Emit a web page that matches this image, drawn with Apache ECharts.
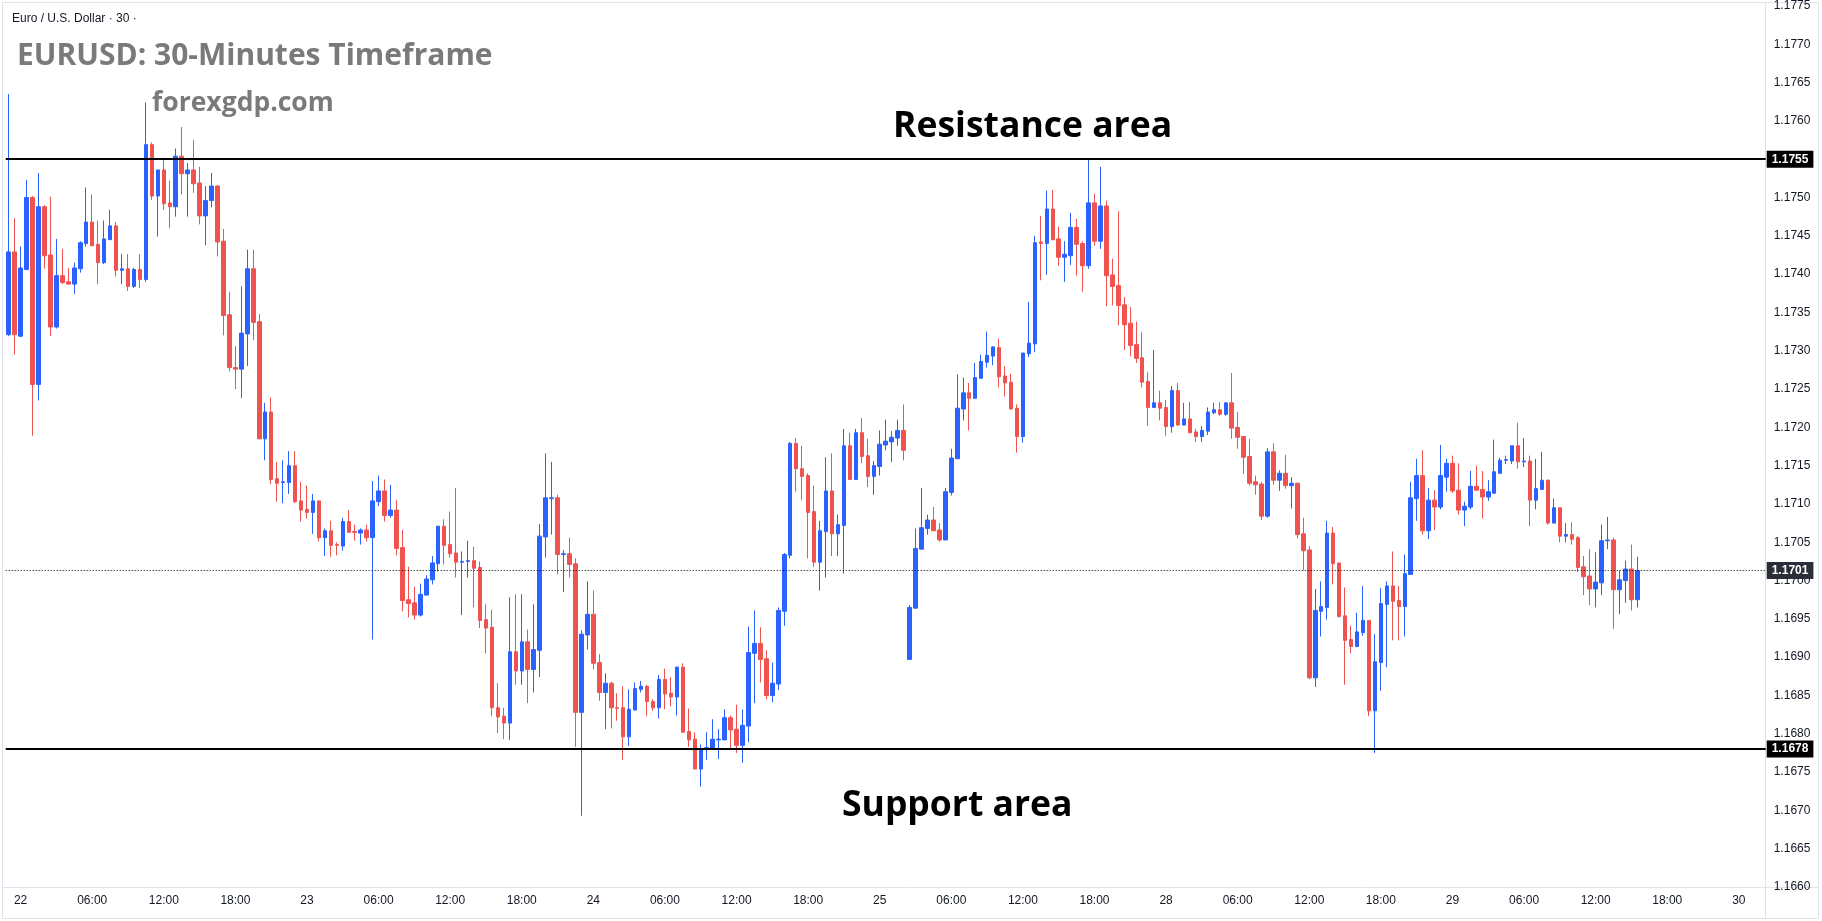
<!DOCTYPE html>
<html>
<head>
<meta charset="utf-8">
<title>EURUSD 30-Minutes Timeframe</title>
<script src="https://cdn.jsdelivr.net/npm/echarts@6/dist/echarts.min.js"></script>
<style>
  html, body { margin: 0; padding: 0; background: #fff; }
  #chart { width: 1822px; height: 921px; }
</style>
</head>
<body>
<div id="chart"></div>
<script>
// day labels of the time scale (weekend 26/27 is skipped)
var days = ['21', '22', '23', '24', '25', '28', '29', '30'];
var firstSlot = 46;      // first candle = 21 23:00, 30-minute slots
var slotCount = 295;     // visible slots incl. empty space on the right

var resistanceLevel = 1.1755;
var supportLevel = 1.1678;

// [open, close, low, high] per 30-minute candle
var candles = [
    [1.17321, 1.17429, 1.17319, 1.17635], [1.17429, 1.17321, 1.17295, 1.17473], [1.17319, 1.17408, 1.17318, 1.17436],
    [1.17406, 1.17500, 1.17405, 1.17523], [1.17500, 1.17256, 1.17189, 1.17502], [1.17256, 1.17488, 1.17235, 1.17532],
    [1.17488, 1.17424, 1.17407, 1.17490], [1.17425, 1.17331, 1.17319, 1.17501], [1.17331, 1.17398, 1.17329, 1.17446],
    [1.17398, 1.17389, 1.17387, 1.17433], [1.17390, 1.17387, 1.17386, 1.17408], [1.17387, 1.17408, 1.17374, 1.17415],
    [1.17407, 1.17441, 1.17402, 1.17443], [1.17440, 1.17468, 1.17436, 1.17513], [1.17468, 1.17437, 1.17437, 1.17504],
    [1.17439, 1.17415, 1.17387, 1.17470], [1.17415, 1.17446, 1.17413, 1.17470], [1.17445, 1.17463, 1.17445, 1.17484],
    [1.17463, 1.17405, 1.17397, 1.17468], [1.17405, 1.17407, 1.17387, 1.17426], [1.17407, 1.17384, 1.17378, 1.17426],
    [1.17384, 1.17406, 1.17382, 1.17408], [1.17406, 1.17393, 1.17382, 1.17426], [1.17393, 1.17569, 1.17390, 1.17624],
    [1.17569, 1.17502, 1.17497, 1.17572], [1.17502, 1.17536, 1.17449, 1.17536], [1.17536, 1.17492, 1.17484, 1.17552],
    [1.17493, 1.17488, 1.17460, 1.17522], [1.17488, 1.17554, 1.17475, 1.17564], [1.17554, 1.17531, 1.17504, 1.17592],
    [1.17531, 1.17536, 1.17475, 1.17545], [1.17536, 1.17518, 1.17506, 1.17575], [1.17519, 1.17476, 1.17465, 1.17540],
    [1.17476, 1.17496, 1.17438, 1.17515], [1.17496, 1.17515, 1.17487, 1.17532], [1.17515, 1.17442, 1.17423, 1.17516],
    [1.17443, 1.17346, 1.17320, 1.17459], [1.17347, 1.17278, 1.17273, 1.17377], [1.17278, 1.17276, 1.17250, 1.17306],
    [1.17276, 1.17323, 1.17238, 1.17384], [1.17322, 1.17407, 1.17280, 1.17432], [1.17407, 1.17337, 1.17314, 1.17432],
    [1.17338, 1.17185, 1.17185, 1.17348], [1.17185, 1.17220, 1.17157, 1.17232], [1.17220, 1.17132, 1.17126, 1.17239],
    [1.17133, 1.17127, 1.17103, 1.17155], [1.17128, 1.17129, 1.17101, 1.17157], [1.17128, 1.17150, 1.17113, 1.17169],
    [1.17150, 1.17103, 1.17101, 1.17169], [1.17104, 1.17092, 1.17077, 1.17129], [1.17093, 1.17089, 1.17081, 1.17124],
    [1.17089, 1.17104, 1.17061, 1.17113], [1.17104, 1.17056, 1.17051, 1.17104], [1.17056, 1.17065, 1.17032, 1.17068],
    [1.17065, 1.17046, 1.17031, 1.17078], [1.17047, 1.17046, 1.17033, 1.17050], [1.17045, 1.17077, 1.17039, 1.17082],
    [1.17077, 1.17063, 1.17063, 1.17092], [1.17064, 1.17063, 1.17052, 1.17073], [1.17062, 1.17066, 1.17047, 1.17068],
    [1.17066, 1.17056, 1.17051, 1.17073], [1.17056, 1.17104, 1.16923, 1.17130], [1.17103, 1.17117, 1.17097, 1.17137],
    [1.17117, 1.17085, 1.17077, 1.17132], [1.17085, 1.17092, 1.17082, 1.17125], [1.17092, 1.17042, 1.17033, 1.17105],
    [1.17043, 1.16974, 1.16960, 1.17066], [1.16975, 1.16970, 1.16952, 1.17018], [1.16971, 1.16955, 1.16949, 1.16992],
    [1.16955, 1.16982, 1.16953, 1.16996], [1.16981, 1.17002, 1.16981, 1.17007], [1.17001, 1.17023, 1.16995, 1.17032],
    [1.17022, 1.17071, 1.17012, 1.17071], [1.17071, 1.17046, 1.17021, 1.17080], [1.17047, 1.17035, 1.17030, 1.17090],
    [1.17036, 1.17024, 1.17004, 1.17121], [1.17024, 1.17025, 1.16955, 1.17038], [1.17025, 1.17026, 1.17004, 1.17052],
    [1.17026, 1.17016, 1.16965, 1.17044], [1.17017, 1.16948, 1.16938, 1.17025], [1.16949, 1.16938, 1.16905, 1.16969],
    [1.16939, 1.16834, 1.16823, 1.16962], [1.16834, 1.16822, 1.16801, 1.16866], [1.16823, 1.16814, 1.16793, 1.16834],
    [1.16814, 1.16907, 1.16792, 1.16978], [1.16907, 1.16882, 1.16864, 1.16982], [1.16882, 1.16920, 1.16864, 1.16982],
    [1.16920, 1.16884, 1.16840, 1.16936], [1.16884, 1.16910, 1.16854, 1.16969], [1.16909, 1.17058, 1.16874, 1.17074],
    [1.17057, 1.17108, 1.17030, 1.17166], [1.17107, 1.17108, 1.17060, 1.17155], [1.17108, 1.17034, 1.17008, 1.17112],
    [1.17034, 1.17035, 1.16985, 1.17040], [1.17035, 1.17021, 1.17004, 1.17056], [1.17022, 1.16828, 1.16783, 1.17029],
    [1.16828, 1.16930, 1.16693, 1.16935], [1.16929, 1.16956, 1.16910, 1.16999], [1.16956, 1.16892, 1.16884, 1.16987],
    [1.16893, 1.16854, 1.16843, 1.16904], [1.16854, 1.16866, 1.16806, 1.16879], [1.16866, 1.16834, 1.16807, 1.16868],
    [1.16834, 1.16833, 1.16817, 1.16853], [1.16834, 1.16796, 1.16766, 1.16862], [1.16796, 1.16832, 1.16784, 1.16858],
    [1.16831, 1.16859, 1.16831, 1.16867], [1.16858, 1.16862, 1.16854, 1.16869], [1.16862, 1.16842, 1.16823, 1.16864],
    [1.16842, 1.16834, 1.16830, 1.16845], [1.16834, 1.16871, 1.16820, 1.16877], [1.16871, 1.16852, 1.16832, 1.16885],
    [1.16853, 1.16848, 1.16836, 1.16874], [1.16848, 1.16887, 1.16824, 1.16888], [1.16887, 1.16802, 1.16802, 1.16892],
    [1.16803, 1.16792, 1.16783, 1.16833], [1.16793, 1.16754, 1.16754, 1.16802], [1.16754, 1.16780, 1.16731, 1.16786],
    [1.16780, 1.16782, 1.16766, 1.16802], [1.16780, 1.16793, 1.16780, 1.16819], [1.16792, 1.16793, 1.16767, 1.16806],
    [1.16792, 1.16821, 1.16792, 1.16832], [1.16821, 1.16805, 1.16781, 1.16824], [1.16806, 1.16785, 1.16775, 1.16838],
    [1.16785, 1.16811, 1.16762, 1.16832], [1.16810, 1.16906, 1.16789, 1.16940], [1.16905, 1.16918, 1.16840, 1.16961],
    [1.16918, 1.16897, 1.16867, 1.16939], [1.16898, 1.16850, 1.16845, 1.16909], [1.16850, 1.16866, 1.16841, 1.16893],
    [1.16865, 1.16961, 1.16857, 1.16965], [1.16960, 1.17034, 1.16941, 1.17036], [1.17033, 1.17179, 1.17029, 1.17181],
    [1.17179, 1.17146, 1.17116, 1.17186], [1.17146, 1.17136, 1.17105, 1.17176], [1.17137, 1.17089, 1.17029, 1.17140],
    [1.17090, 1.17024, 1.17018, 1.17124], [1.17024, 1.17065, 1.16987, 1.17078], [1.17064, 1.17117, 1.17004, 1.17161],
    [1.17117, 1.17061, 1.17032, 1.17166], [1.17061, 1.17073, 1.17032, 1.17086], [1.17072, 1.17176, 1.17009, 1.17198],
    [1.17176, 1.17132, 1.17131, 1.17193], [1.17132, 1.17193, 1.17132, 1.17198], [1.17193, 1.17162, 1.17153, 1.17212],
    [1.17163, 1.17136, 1.17122, 1.17185], [1.17136, 1.17150, 1.17112, 1.17156], [1.17149, 1.17178, 1.17137, 1.17196],
    [1.17177, 1.17182, 1.17170, 1.17210], [1.17181, 1.17187, 1.17155, 1.17195], [1.17186, 1.17196, 1.17176, 1.17210],
    [1.17196, 1.17170, 1.17157, 1.17230], [1.16897, 1.16965, 1.16897, 1.16968], [1.16964, 1.17042, 1.16964, 1.17068],
    [1.17041, 1.17069, 1.17041, 1.17121], [1.17068, 1.17079, 1.17060, 1.17086], [1.17079, 1.17065, 1.17065, 1.17096],
    [1.17066, 1.17053, 1.17051, 1.17075], [1.17053, 1.17116, 1.17053, 1.17121], [1.17115, 1.17160, 1.17111, 1.17172],
    [1.17159, 1.17225, 1.17159, 1.17269], [1.17224, 1.17245, 1.17209, 1.17265], [1.17245, 1.17238, 1.17196, 1.17258],
    [1.17238, 1.17265, 1.17238, 1.17284], [1.17264, 1.17286, 1.17264, 1.17295], [1.17285, 1.17294, 1.17278, 1.17325],
    [1.17293, 1.17305, 1.17281, 1.17306], [1.17304, 1.17266, 1.17252, 1.17316], [1.17267, 1.17258, 1.17240, 1.17280],
    [1.17259, 1.17224, 1.17223, 1.17270], [1.17225, 1.17188, 1.17167, 1.17230], [1.17188, 1.17297, 1.17180, 1.17297],
    [1.17296, 1.17310, 1.17292, 1.17364], [1.17309, 1.17441, 1.17298, 1.17450], [1.17442, 1.17440, 1.17392, 1.17476],
    [1.17440, 1.17485, 1.17399, 1.17509], [1.17485, 1.17445, 1.17444, 1.17510], [1.17446, 1.17422, 1.17411, 1.17462],
    [1.17422, 1.17426, 1.17390, 1.17443], [1.17424, 1.17461, 1.17412, 1.17480], [1.17461, 1.17439, 1.17398, 1.17472],
    [1.17440, 1.17411, 1.17377, 1.17443], [1.17411, 1.17493, 1.17407, 1.17551], [1.17493, 1.17443, 1.17437, 1.17505],
    [1.17443, 1.17489, 1.17433, 1.17540], [1.17489, 1.17398, 1.17358, 1.17496], [1.17399, 1.17384, 1.17359, 1.17420],
    [1.17385, 1.17359, 1.17333, 1.17482], [1.17360, 1.17334, 1.17301, 1.17370], [1.17336, 1.17307, 1.17293, 1.17357],
    [1.17308, 1.17290, 1.17284, 1.17338], [1.17291, 1.17259, 1.17252, 1.17324], [1.17260, 1.17226, 1.17202, 1.17272],
    [1.17226, 1.17232, 1.17226, 1.17301], [1.17232, 1.17225, 1.17209, 1.17248], [1.17226, 1.17201, 1.17189, 1.17236],
    [1.17201, 1.17248, 1.17193, 1.17254], [1.17248, 1.17203, 1.17202, 1.17258], [1.17203, 1.17211, 1.17203, 1.17232],
    [1.17211, 1.17193, 1.17193, 1.17233], [1.17194, 1.17188, 1.17181, 1.17198], [1.17188, 1.17196, 1.17181, 1.17202],
    [1.17195, 1.17220, 1.17190, 1.17226], [1.17219, 1.17223, 1.17217, 1.17232], [1.17223, 1.17217, 1.17215, 1.17233],
    [1.17217, 1.17232, 1.17215, 1.17232], [1.17232, 1.17199, 1.17185, 1.17271], [1.17200, 1.17187, 1.17172, 1.17220],
    [1.17188, 1.17161, 1.17139, 1.17188], [1.17162, 1.17127, 1.17124, 1.17185], [1.17129, 1.17125, 1.17112, 1.17137],
    [1.17126, 1.17084, 1.17079, 1.17129], [1.17084, 1.17168, 1.17082, 1.17173], [1.17168, 1.17131, 1.17125, 1.17179],
    [1.17131, 1.17140, 1.17117, 1.17144], [1.17140, 1.17124, 1.17120, 1.17164], [1.17124, 1.17127, 1.17094, 1.17135],
    [1.17127, 1.17060, 1.17055, 1.17128], [1.17061, 1.17039, 1.17013, 1.17082], [1.17040, 1.16873, 1.16871, 1.17045],
    [1.16873, 1.16961, 1.16861, 1.16989], [1.16960, 1.16966, 1.16927, 1.16999], [1.16965, 1.17062, 1.16949, 1.17078],
    [1.17062, 1.17022, 1.16995, 1.17070], [1.17023, 1.16953, 1.16952, 1.17023], [1.16954, 1.16922, 1.16864, 1.16991],
    [1.16923, 1.16914, 1.16905, 1.16941], [1.16914, 1.16933, 1.16913, 1.16958], [1.16932, 1.16948, 1.16928, 1.16993],
    [1.16948, 1.16830, 1.16823, 1.16948], [1.16830, 1.16894, 1.16775, 1.16930], [1.16893, 1.16970, 1.16856, 1.16990],
    [1.16969, 1.16993, 1.16887, 1.16999], [1.16993, 1.16973, 1.16922, 1.17038], [1.16974, 1.16966, 1.16922, 1.16993],
    [1.16966, 1.17009, 1.16927, 1.17034], [1.17008, 1.17108, 1.17008, 1.17129], [1.17107, 1.17137, 1.17078, 1.17159],
    [1.17137, 1.17065, 1.17060, 1.17170], [1.17065, 1.17105, 1.17054, 1.17121], [1.17105, 1.17096, 1.17066, 1.17118],
    [1.17096, 1.17137, 1.17093, 1.17177], [1.17135, 1.17153, 1.17116, 1.17159], [1.17153, 1.17117, 1.17114, 1.17163],
    [1.17118, 1.17092, 1.17086, 1.17153], [1.17092, 1.17097, 1.17071, 1.17103], [1.17096, 1.17123, 1.17093, 1.17143],
    [1.17123, 1.17118, 1.17117, 1.17150], [1.17119, 1.17109, 1.17081, 1.17143], [1.17109, 1.17116, 1.17104, 1.17131],
    [1.17114, 1.17142, 1.17114, 1.17184], [1.17140, 1.17157, 1.17140, 1.17160], [1.17157, 1.17158, 1.17152, 1.17163],
    [1.17156, 1.17176, 1.17152, 1.17176], [1.17176, 1.17155, 1.17146, 1.17206], [1.17155, 1.17156, 1.17148, 1.17186],
    [1.17156, 1.17105, 1.17071, 1.17163], [1.17105, 1.17120, 1.17093, 1.17159], [1.17119, 1.17131, 1.17119, 1.17168],
    [1.17131, 1.17075, 1.17073, 1.17132], [1.17075, 1.17095, 1.17075, 1.17107], [1.17095, 1.17058, 1.17050, 1.17095],
    [1.17058, 1.17060, 1.17050, 1.17075], [1.17060, 1.17054, 1.17047, 1.17076], [1.17056, 1.17017, 1.17011, 1.17058],
    [1.17018, 1.17005, 1.16981, 1.17032], [1.17006, 1.16989, 1.16968, 1.17041], [1.16989, 1.16998, 1.16965, 1.17037],
    [1.16997, 1.17052, 1.16981, 1.17073], [1.17052, 1.17053, 1.17041, 1.17083], [1.17053, 1.16988, 1.16937, 1.17056],
    [1.16988, 1.17001, 1.16956, 1.17013], [1.17000, 1.17015, 1.16971, 1.17026], [1.17015, 1.16975, 1.16961, 1.17047],
    [1.16975, 1.17013, 1.16965, 1.17031]
];

// time scale categories, "DD HH:MM"
var categories = [];
for (var i = 0; i < slotCount; i++) {
    var s = firstSlot + i;
    var minutes = (s % 48) * 30;
    var hh = ('0' + Math.floor(minutes / 60)).slice(-2);
    var mm = ('0' + (minutes % 60)).slice(-2);
    categories.push(days[Math.floor(s / 48)] + ' ' + hh + ':' + mm);
}

var lastClose = candles[candles.length - 1][1];

var upColor = '#2962ff';
var downColor = '#ef5350';
var axisFont = '"Liberation Sans", Arial, sans-serif';
var lineColor = '#e0e3eb';

var chart = echarts.init(document.getElementById('chart'));

function priceTag(bg) {
    return {
        show: true,
        position: 'end',
        distance: 1,
        formatter: function (p) { return Number(p.value).toFixed(4); },
        backgroundColor: bg,
        color: '#fff',
        fontFamily: axisFont,
        fontWeight: 'bold',
        fontSize: 12,
        padding: [3, 5, 2, 5]
    };
}

var option = {
    backgroundColor: '#fff',
    animation: false,
    grid: { left: 5.7, right: 56.3, top: 0, bottom: 34 },
    xAxis: {
        type: 'category',
        data: categories,
        boundaryGap: true,
        axisLine: { show: false },
        axisTick: { show: false },
        splitLine: { show: false },
        axisLabel: {
            margin: 8,
            color: '#131722',
            fontFamily: axisFont,
            fontSize: 12,
            interval: function (index, value) {
                return value.slice(-2) === '00' && parseInt(value.slice(3, 5), 10) % 6 === 0;
            },
            formatter: function (value) {
                var t = value.slice(3);
                return t === '00:00' ? value.slice(0, 2) : t;
            }
        }
    },
    yAxis: {
        type: 'value',
        position: 'right',
        min: 1.1660,
        max: 1.17755,
        interval: 0.0005,
        axisLine: { show: false },
        axisTick: { show: false },
        splitLine: { show: false },
        axisLabel: {
            margin: 8,
            color: '#131722',
            fontFamily: axisFont,
            fontSize: 12,
            showMaxLabel: false,
            formatter: function (v) { return v.toFixed(4); }
        }
    },
    series: [{
        type: 'candlestick',
        data: candles,
        barWidth: 4,
        itemStyle: {
            color: upColor,
            color0: downColor,
            borderColor: upColor,
            borderColor0: downColor,
            borderWidth: 1
        }
    }, {
        // carrier for the horizontal price levels
        name: 'levels',
        type: 'line',
        data: [],
        silent: true,
        markLine: {
            silent: true,
            precision: 5,
            symbol: ['none', 'none'],
            animation: false,
            data: [
                { yAxis: resistanceLevel, lineStyle: { color: '#000', width: 2, type: 'solid' }, label: priceTag('#000') },
                { yAxis: supportLevel, lineStyle: { color: '#000', width: 2, type: 'solid' }, label: priceTag('#000') },
                { yAxis: lastClose, lineStyle: { color: '#000', width: 1, type: [1, 2] }, label: priceTag('#2a2e39') }
            ]
        }
    }],
    graphic: [
        // chart frame and scale separators
        { type: 'rect', silent: true, z: -1, shape: { x: 2.5, y: 2.5, width: 1816, height: 916 },
          style: { fill: null, stroke: lineColor, lineWidth: 1 } },
        { type: 'line', silent: true, shape: { x1: 1765.5, y1: 2.5, x2: 1765.5, y2: 918.5 },
          style: { stroke: lineColor, lineWidth: 1 } },
        { type: 'line', silent: true, shape: { x1: 2.5, y1: 887.5, x2: 1818.5, y2: 887.5 },
          style: { stroke: lineColor, lineWidth: 1 } },
        // texts
        { type: 'text', x: 12, y: 19, silent: true,
          style: { text: 'Euro / U.S. Dollar · 30 ·', font: '12px ' + axisFont, fill: '#131722',
                   textVerticalAlign: 'middle', verticalAlign: 'middle' } },
        { type: 'text', x: 17, y: 56, silent: true,
          style: { text: 'EURUSD: 30-Minutes Timeframe', font: 'bold 30px "Open Sans"', fill: '#7a7a7a',
                   textVerticalAlign: 'middle', verticalAlign: 'middle' } },
        { type: 'text', x: 152, y: 103, silent: true,
          style: { text: 'forexgdp.com', font: 'bold 26.5px "Open Sans"', fill: '#7a7a7a',
                   textVerticalAlign: 'middle', verticalAlign: 'middle' } },
        { type: 'text', x: 893, y: 127, silent: true,
          style: { text: 'Resistance area', font: 'bold 35.5px "Open Sans"', fill: '#000',
                   textVerticalAlign: 'middle', verticalAlign: 'middle' } },
        { type: 'text', x: 842, y: 806, silent: true,
          style: { text: 'Support area', font: 'bold 35.5px "Open Sans"', fill: '#000',
                   textVerticalAlign: 'middle', verticalAlign: 'middle' } }
    ]
};

chart.setOption(option);

window.addEventListener('resize', function () {
    chart.resize();
});
</script>
</body>
</html>
